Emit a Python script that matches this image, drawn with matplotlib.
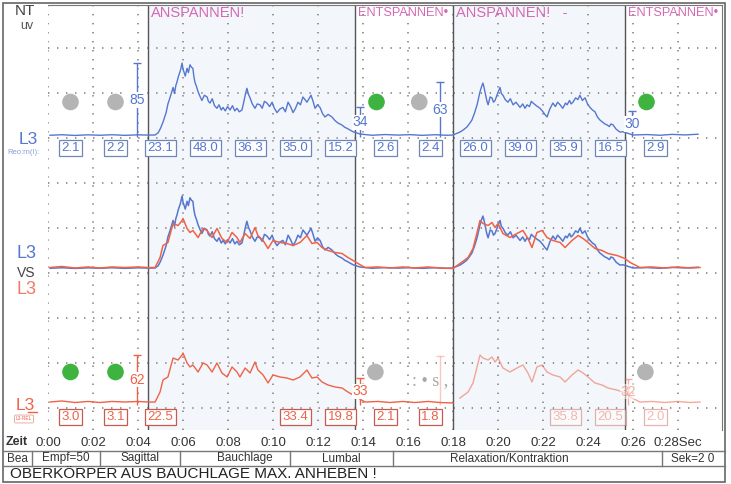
import numpy as np
import matplotlib.pyplot as plt
from matplotlib.patches import Rectangle

plt.rcParams['font.family'] = ['Liberation Sans', 'DejaVu Sans']

# ---- values ----
# L3 blue channel, uV over seconds
blue_t = [0.09, 0.62, 1.20, 1.78, 2.31, 2.84, 3.42, 4.00, 4.44,
          4.76, 4.90, 5.00, 5.11, 5.25, 5.33, 5.42, 5.50, 5.56, 5.62, 5.68, 5.73,
          5.80, 5.88, 5.96, 6.00, 6.04, 6.10, 6.18, 6.24, 6.31, 6.38, 6.44, 6.48,
          6.53, 6.60, 6.67, 6.75, 6.84, 6.95, 7.07, 7.13, 7.20, 7.30,
          7.40, 7.51, 7.60, 7.70, 7.78, 7.88, 7.98, 8.09, 8.20, 8.30,
          8.40, 8.50, 8.62, 8.70, 8.78, 8.84, 8.91, 8.98, 9.08, 9.20,
          9.30, 9.42, 9.52, 9.62, 9.73, 9.85, 9.96, 10.06, 10.18, 10.30,
          10.44, 10.55, 10.67, 10.78, 10.89, 11.00, 11.11, 11.22, 11.33, 11.42,
          11.51, 11.60, 11.69, 11.78, 11.87, 11.98, 12.09, 12.20, 12.31, 12.45,
          12.62, 12.75, 12.89, 13.05, 13.20, 13.29, 13.42, 13.56, 13.87,
          14.40, 14.98, 15.56, 16.09, 16.62, 17.20, 17.73,
          18.00, 18.15, 18.31, 18.45, 18.62, 18.75, 18.84, 18.95, 19.07, 19.14,
          19.20, 19.27, 19.33, 19.38,
          19.42, 19.50, 19.56, 19.65, 19.73, 19.80, 19.87, 19.98, 20.09, 20.15,
          20.22, 20.32, 20.44, 20.55, 20.67, 20.80, 20.98, 21.10, 21.20, 21.29,
          21.40, 21.48, 21.56, 21.70, 21.87, 22.00, 22.08, 22.18, 22.30, 22.44,
          22.55, 22.65, 22.76, 22.88, 23.00, 23.07, 23.18, 23.25, 23.33, 23.45,
          23.55, 23.64, 23.75, 23.87, 23.98, 24.09, 24.20, 24.31, 24.42, 24.53,
          24.65, 24.75, 24.84, 24.95, 25.02, 25.11, 25.25, 25.42, 25.55, 25.73,
          26.00, 26.62, 27.20, 27.73, 28.31, 28.89]
blue_v = [2.0, 2.6, 1.8, 2.5, 2.0, 2.6, 1.9, 2.5, 2.2,
          2.3, 5, 10, 17, 28, 38, 45, 52, 57, 50, 59, 63,
          70, 76, 85, 78, 75, 70, 79, 74, 83, 80, 79, 70,
          63, 58, 52, 47, 42, 48, 46, 41, 39, 44,
          36, 33, 37, 31, 34, 30, 35, 31, 36, 30,
          33, 29, 31, 40, 50, 56, 49, 45, 38, 33,
          38, 37, 33, 41, 39, 35, 40, 33, 28, 32,
          34, 29, 40, 35, 28, 33, 40, 37, 46, 43,
          40, 44, 48, 41, 33, 37, 34, 27, 23, 26,
          23, 19, 16, 14, 11, 10, 8, 6, 3.4,
          2.0, 2.8, 2.2, 2.7, 1.9, 2.6, 2.0,
          2.3, 4, 5.7, 8, 11.5, 16, 19.5, 27, 37, 45,
          52, 58, 62, 57,
          52, 42, 37, 46, 45, 40, 42, 50, 57, 50,
          48, 43, 40, 44, 37, 40, 34, 38, 33, 37,
          35, 41, 39, 36, 33, 29, 26, 23, 32, 39,
          35, 40, 37, 33, 39, 37, 42, 38, 40, 45,
          43, 48, 42, 45, 38, 34, 31, 29, 23, 19.5,
          17, 15, 14, 12, 15, 14, 9, 5.7, 6, 4.6,
          2.3, 2.8, 2.0, 3.0, 2.4, 3.2]

# L3 red channel
red_t = [0.09, 0.62, 1.20, 1.78, 2.31, 2.84, 3.42, 4.00, 4.44, 4.76,
         4.98, 5.11, 5.33, 5.51, 5.56, 5.78, 5.96, 6.00, 6.18, 6.31,
         6.44, 6.67, 6.89, 7.07, 7.29, 7.51, 7.73, 7.96, 8.18, 8.40,
         8.53, 8.76, 8.98, 9.20, 9.33, 9.56, 9.78, 10.00, 10.31, 10.62,
         10.89, 11.20, 11.51, 11.73, 11.96, 12.18, 12.44, 12.76, 13.07, 13.33,
         13.56, 13.78, 14.09, 14.67, 15.20, 15.78, 16.31, 16.89, 17.42, 18.00,
         18.31, 18.67, 18.89, 19.07, 19.20, 19.33, 19.56, 19.73, 19.87, 20.00,
         20.22, 20.53, 20.84, 21.11, 21.33, 21.51, 21.73, 21.96, 22.18, 22.44,
         22.76, 22.98, 23.29, 23.56, 23.78, 24.00, 24.31, 24.62, 24.89, 25.29,
         25.64, 25.87, 26.31, 26.84, 27.42, 28.00, 28.53, 28.98]
red_v = [3.1, 4.4, 2.5, 3.8, 2.5, 3.8, 3.1, 3.8, 3.1, 3.1,
         15.6, 30.6, 34.4, 53.1, 58.1, 55.6, 61.9, 64.4, 51.9, 46.9,
         49.4, 40.6, 51.9, 49.4, 40.6, 51.9, 39.4, 34.4, 46.9, 40.6,
         34.4, 45.6, 39.4, 53.1, 43.1, 36.9, 26.9, 36.9, 34.4, 33.1,
         30.6, 34.4, 43.1, 33.1, 34.4, 28.1, 24.4, 21.9, 20.6, 15.6,
         11.9, 8.1, 3.1, 3.8, 2.5, 3.8, 2.5, 3.8, 2.5, 1.9,
         8.1, 15.6, 26.9, 46.9, 61.9, 58.1, 55.6, 59.4, 53.1, 58.1,
         45.6, 40.6, 45.6, 49.4, 39.4, 28.1, 46.9, 49.4, 40.6, 36.9,
         34.4, 28.1, 36.9, 43.1, 39.4, 34.4, 26.9, 24.4, 20.6, 18.1,
         14.4, 9.4, 3.1, 3.8, 2.5, 3.8, 2.5, 3.1]

phase_t = [4.44, 13.64, 18.0, 25.64]
phase_lbl = ['ANSPANNEN!', 'ENTSPANNEN\u2022', 'ANSPANNEN!   -', 'ENTSPANNEN\u2022']

# 2 s window means
win_t = [1, 3, 5, 7, 9, 11, 13, 15, 17, 19, 21, 23, 25, 27]
blue_win = ['2.1', '2.2', '23.1', '48.0', '36.3', '35.0', '15.2',
            '2.6', '2.4', '26.0', '39.0', '35.9', '16.5', '2.9']
red_win = ['3.0', '3.1', '22.5', '', '', '33.4', '19.8',
           '2.1', '1.8', '', '', '35.8', '20.5', '2.0']

# peak markers
blue_pk_t = [3.96, 13.87, 17.42, 25.96]
blue_pk_v = [85, 34, 63, 30]
red_pk_t = [3.96, 13.87, 17.42, 25.78]
red_pk_v = [62, 33, 61, 32]

# status dots
top_dot_t = [1.0, 3.0, 14.6, 16.5, 26.6]
top_dot_c = ['grey', 'grey', 'green', 'grey', 'green']
bot_dot_t = [1.0, 3.0, 14.55, 26.55]
bot_dot_c = ['green', 'green', 'grey', 'grey']

time_lbl = ['0:00', '0:02', '0:04', '0:06', '0:08', '0:10', '0:12', '0:14',
            '0:16', '0:18', '0:20', '0:22', '0:24', '0:26', '0:28Sec']

assert len(blue_t) == len(blue_v) and len(red_t) == len(red_v)

BLUE = '#5577cf'
RED = '#ef6248'
PINK = '#d468b4'
DOTC = {'grey': '#b4b4b4', 'green': '#3fb33f'}

W, H = 731, 484
fig = plt.figure(figsize=(W / 100, H / 100), dpi=100)


def rect(x0, y0, x1, y1):
    return [x0 / W, 1 - y1 / H, (x1 - x0) / W, (y1 - y0) / H]


# pixel layer for frame / side labels / footer
fax = fig.add_axes([0, 0, 1, 1])
fax.set_xlim(0, W)
fax.set_ylim(H, 0)
fax.axis('off')

PX0, PX1, PY0, PY1 = 48, 722, 5, 430
ax = fig.add_axes(rect(PX0, PY0, PX1, PY1))
ax.patch.set_alpha(0)
ax.set_xlim(0, (PX1 - PX0) / 22.5)
ax.set_ylim(PY1, PY0)
ax.set_xticks(np.arange(0, 30, 2))
ax.set_xticklabels(time_lbl)
ax.set_yticks([48 + 45 * k for k in range(9)])
ax.tick_params(axis='x', length=0, pad=5, labelsize=9.5, colors='#333333')
ax.tick_params(axis='y', length=0, labelleft=False)
ax.grid(True, color='#777777', lw=1.1, linestyle=(0, (0.9, 5.0)))
for s in ['left', 'bottom']:
    ax.spines[s].set_visible(False)
for s in ['top', 'right']:
    ax.spines[s].set_color('#777777')

# tension phases
for i in (0, 2):
    ax.axvspan(phase_t[i], phase_t[i + 1], color='#f3f7fb', zorder=0)
for t, lbl in zip(phase_t, phase_lbl):
    ax.axvline(t, color='#555555', lw=1.0)
    fs = 10.5 if lbl.startswith('AN') else 9.2
    ax.text(t + 0.15, 13, lbl, color=PINK, fontsize=fs, ha='left', va='center')


def trace_ax(base, scale):
    a = fig.add_axes(rect(PX0, PY0, PX1, PY1), sharex=ax)
    a.set_ylim((base - PY1) / scale, (base - PY0) / scale)
    a.axis('off')
    a.patch.set_alpha(0)
    return a


a_top = trace_ax(137, 0.87)
a_mid_b = trace_ax(270, 0.87)
a_mid_r = trace_ax(270, 0.80)
a_bot = trace_ax(404.5, 0.80)

a_top.plot(blue_t, blue_v, color=BLUE, lw=1.0)
a_mid_b.plot(blue_t, blue_v, color=BLUE, lw=1.1)
a_mid_r.plot(red_t, red_v, color=RED, lw=1.1)
rt = np.array(red_t)
rv = np.array(red_v)
first = rt <= 18.0
a_bot.plot(rt[first], rv[first], color=RED, lw=1.0)
a_bot.plot(rt[~first], rv[~first], color=RED, lw=1.0, alpha=0.55)

# peak markers
for t, v in zip(blue_pk_t, blue_pk_v):
    a_top.vlines(t, 0, v, color=BLUE, lw=1.0)
    a_top.plot(t, v, marker='_', ms=6, color=BLUE)
    a_top.text(t, v / 2, str(v), color=BLUE, fontsize=10, ha='center', va='center',
               bbox=dict(boxstyle='square,pad=0.05', fc='white', ec='none'))
red_alpha = [1, 1, 0.35, 0.5]
red_show = [True, True, False, True]
for t, v, al, sh in zip(red_pk_t, red_pk_v, red_alpha, red_show):
    a_bot.vlines(t, 0, v, color=RED, lw=1.0, alpha=al)
    a_bot.plot(t, v, marker='_', ms=6, color=RED, alpha=al)
    if sh:
        a_bot.text(t, v / 2, str(v), color=RED, fontsize=10, ha='center', va='center',
                   alpha=al, bbox=dict(boxstyle='square,pad=0.05', fc='white', ec='none', alpha=al))

# status dots
ax.scatter(top_dot_t, [102] * len(top_dot_t), s=120, c=[DOTC[c] for c in top_dot_c], zorder=4)
ax.scatter(bot_dot_t, [372] * len(bot_dot_t), s=120, c=[DOTC[c] for c in bot_dot_c], zorder=4)

# window mean boxes
for t, s in zip(win_t, blue_win):
    ax.text(t, 148, s, color=BLUE, fontsize=9.5, ha='center', va='center', zorder=5,
            bbox=dict(boxstyle='square,pad=0.18', fc='white', ec='#6f86b6', lw=0.9))
for t, s in zip(win_t, red_win):
    if not s:
        continue
    al = 0.45 if t > 20 else 1.0
    ax.text(t, 417, s, color=RED, fontsize=9.5, ha='center', va='center', zorder=5, alpha=al,
            bbox=dict(boxstyle='square,pad=0.18', fc='white', ec='#c85a50', lw=0.9, alpha=al))

# scan smudges over the lower row
fax.text(190, 416, 'tml:', family='Liberation Serif', fontsize=17, color='#b89c9c', va='center')
fax.text(241, 413, '..C.', family='Liberation Serif', fontsize=17, color='#9c9c9c', va='center')
fax.plot([262, 340], [417, 417], color='#a0a0a0', lw=1.5)
fax.text(455, 416, 'ffil', family='Liberation Serif', fontsize=17, color='#c8a49c', va='center')
fax.text(494, 418, '\u2022 -', fontsize=10, color='#999999', va='center')
fax.text(412, 381, ': \u2022 s ,', family='Liberation Serif', fontsize=13, color='#a8a8a8', va='center')

# side labels
fax.text(25, 11, 'NT', fontsize=11, color='#444444', ha='center', va='center')
fax.text(27, 26, 'uv', fontsize=9, color='#555555', ha='center', va='center')
fax.text(28, 139, 'L3', fontsize=12.5, color=BLUE, ha='center', va='center')
fax.text(24, 152, 'Reo:rn(I):', fontsize=5.5, color='#8aa0d8', ha='center', va='center')
fax.text(26, 254, 'L3', fontsize=13, color=BLUE, ha='center', va='center')
fax.text(26, 273, 'VS', fontsize=10, color='#444444', ha='center', va='center')
fax.text(26, 290, 'L3', fontsize=13, color='#ee7a6a', ha='center', va='center')
fax.text(25, 406, 'L3', fontsize=12.5, color=RED, ha='center', va='center')
fax.plot([28, 37], [412, 412], color=RED, lw=1)
fax.text(24, 419, 'L3-REL', fontsize=3.5, color=RED, ha='center', va='center',
         bbox=dict(boxstyle='round,pad=0.3', fc='white', ec='#e8a098', lw=0.6))
fax.text(6, 442, 'Zeit', fontsize=9, weight='bold', color='#333333', ha='left', va='center')

# footer
fax.add_patch(Rectangle((3, 3), 722, 479, fill=False, ec='#666666', lw=1.2))
fax.plot([3, 725], [451, 451], color='#777777', lw=1)
fax.plot([3, 725], [466, 466], color='#777777', lw=1)
for xd in [32, 100, 180, 290, 393, 662]:
    fax.plot([xd, xd], [451, 466], color='#777777', lw=1)
foot_txt = ['Bea', 'Empf=50', 'Sagittal', 'Bauchlage', 'Lumbal', 'Relaxation/Kontraktion', 'Sek=2 0']
foot_x = [17, 66, 140, 245, 341, 509, 693]
for s, xc in zip(foot_txt, foot_x):
    fax.text(xc, 458.5, s, fontsize=8.5, color='#333333', ha='center', va='center')
fax.text(10, 474, 'OBERK\u00d6RPER AUS BAUCHLAGE MAX. ANHEBEN !', fontsize=11,
         color='#222222', ha='left', va='center')

fig.savefig('out.png', dpi=100)
